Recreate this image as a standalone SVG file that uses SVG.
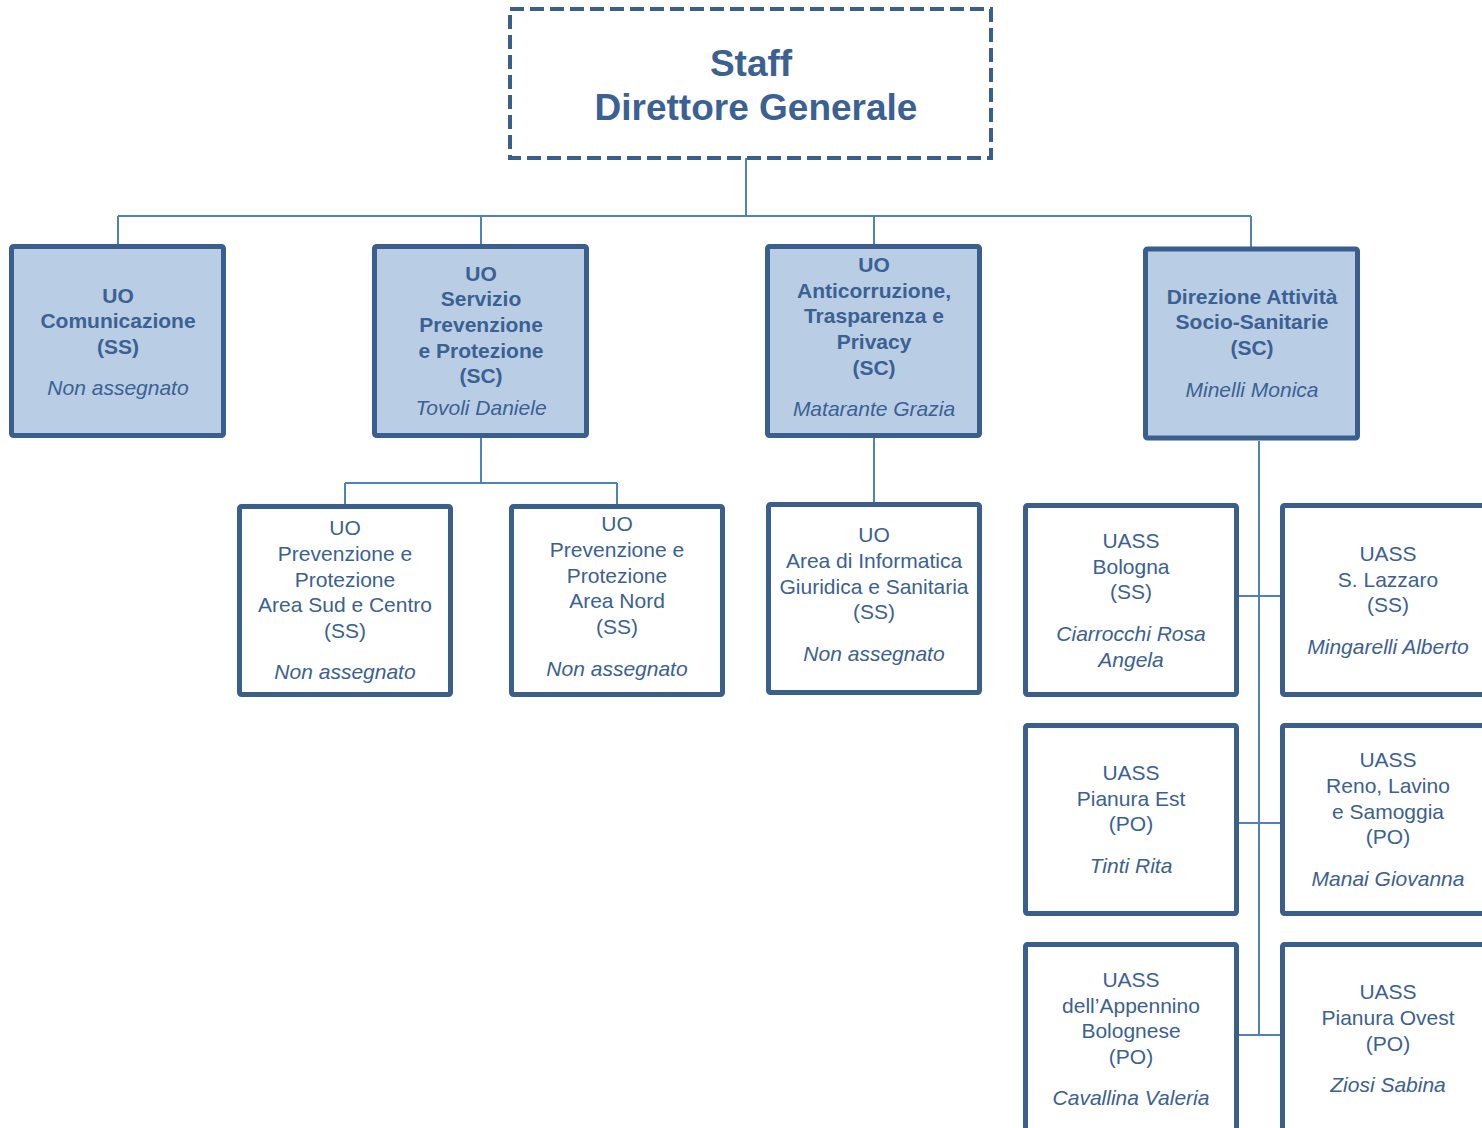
<svg xmlns="http://www.w3.org/2000/svg" width="1482" height="1128" viewBox="0 0 1482 1128">
<style>
.box{stroke:#3a5f8c;stroke-width:5;rx:2;}
.top{fill:#b9cde5;}
.low{fill:#ffffff;}
.conn{stroke:#4f81bd;stroke-width:2;fill:none;}
text{font-family:"Liberation Sans",Arial,sans-serif;font-size:21px;fill:#3b6193;text-anchor:middle;}
.b{font-weight:bold;}
.i{font-style:italic;}
.big{font-size:37px;font-weight:bold;}
</style>
<rect width="1482" height="1128" fill="#ffffff"/>
<g id="connectors">
<path class="conn" d="M746 158V216M118 216H1251M118 216V244M481 216V244M874 216V244M1251 216V247"/>
<path class="conn" d="M481 438V483M345 483H617M345 483V504M617 483V506M874 438V502"/>
<path class="conn" d="M1259 441V1035M1239 596H1280M1239 823H1280M1239 1035H1280"/>
</g>
<g id="staff">
<rect x="510" y="9" width="481" height="149" fill="#ffffff" stroke="#3a5f8c" stroke-width="4" stroke-dasharray="14 6"/>
<text class="big" x="751" y="76">Staff</text>
<text class="big" x="756" y="120">Direttore Generale</text>
</g>
<g id="comunicazione">
<rect class="box top" x="11.5" y="246.5" width="212" height="189"/>
<text class="b" x="118" y="303">UO</text>
<text class="b" x="118" y="328">Comunicazione</text>
<text class="b" x="118" y="354">(SS)</text>
<text class="i" x="118" y="395">Non assegnato</text>
</g>
<g id="spp">
<rect class="box top" x="374.5" y="246.5" width="212" height="189"/>
<text class="b" x="481" y="281">UO</text>
<text class="b" x="481" y="306">Servizio</text>
<text class="b" x="481" y="332">Prevenzione</text>
<text class="b" x="481" y="358">e Protezione</text>
<text class="b" x="481" y="383">(SC)</text>
<text class="i" x="481" y="415">Tovoli Daniele</text>
</g>
<g id="anticorruzione">
<rect class="box top" x="767.5" y="246.5" width="212" height="189"/>
<text class="b" x="874" y="272">UO</text>
<text class="b" x="874" y="298">Anticorruzione,</text>
<text class="b" x="874" y="323">Trasparenza e</text>
<text class="b" x="874" y="349">Privacy</text>
<text class="b" x="874" y="375">(SC)</text>
<text class="i" x="874" y="416">Matarante Grazia</text>
</g>
<g id="dass">
<rect class="box top" x="1145.5" y="249" width="212" height="189"/>
<text class="b" x="1252" y="304">Direzione Attività</text>
<text class="b" x="1252" y="329">Socio-Sanitarie</text>
<text class="b" x="1252" y="355">(SC)</text>
<text class="i" x="1252" y="397">Minelli Monica</text>
</g>
<g id="pp-sud">
<rect class="box low" x="239.5" y="506.5" width="211" height="188"/>
<text x="345" y="535">UO</text>
<text x="345" y="561">Prevenzione e</text>
<text x="345" y="587">Protezione</text>
<text x="345" y="612">Area Sud e Centro</text>
<text x="345" y="638">(SS)</text>
<text class="i" x="345" y="679">Non assegnato</text>
</g>
<g id="pp-nord">
<rect class="box low" x="511.5" y="506.5" width="211" height="188"/>
<text x="617" y="531">UO</text>
<text x="617" y="557">Prevenzione e</text>
<text x="617" y="583">Protezione</text>
<text x="617" y="608">Area Nord</text>
<text x="617" y="634">(SS)</text>
<text class="i" x="617" y="676">Non assegnato</text>
</g>
<g id="informatica">
<rect class="box low" x="768.5" y="504.5" width="211" height="188"/>
<text x="874" y="542">UO</text>
<text x="874" y="568">Area di Informatica</text>
<text x="874" y="594">Giuridica e Sanitaria</text>
<text x="874" y="619">(SS)</text>
<text class="i" x="874" y="661">Non assegnato</text>
</g>
<g id="uass-bologna">
<rect class="box low" x="1025.5" y="505.5" width="211" height="189"/>
<text x="1131" y="548">UASS</text>
<text x="1131" y="574">Bologna</text>
<text x="1131" y="599">(SS)</text>
<text class="i" x="1131" y="641">Ciarrocchi Rosa</text>
<text class="i" x="1131" y="667">Angela</text>
</g>
<g id="uass-lazzaro">
<rect class="box low" x="1282.5" y="505.5" width="211" height="189"/>
<text x="1388" y="561">UASS</text>
<text x="1388" y="587">S. Lazzaro</text>
<text x="1388" y="612">(SS)</text>
<text class="i" x="1388" y="654">Mingarelli Alberto</text>
</g>
<g id="uass-pianura-est">
<rect class="box low" x="1025.5" y="725.5" width="211" height="188"/>
<text x="1131" y="780">UASS</text>
<text x="1131" y="806">Pianura Est</text>
<text x="1131" y="831">(PO)</text>
<text class="i" x="1131" y="873">Tinti Rita</text>
</g>
<g id="uass-reno">
<rect class="box low" x="1282.5" y="725.5" width="211" height="188"/>
<text x="1388" y="767">UASS</text>
<text x="1388" y="793">Reno, Lavino</text>
<text x="1388" y="819">e Samoggia</text>
<text x="1388" y="844">(PO)</text>
<text class="i" x="1388" y="886">Manai Giovanna</text>
</g>
<g id="uass-appennino">
<rect class="box low" x="1025.5" y="944.5" width="211" height="188"/>
<text x="1131" y="987">UASS</text>
<text x="1131" y="1013">dell’Appennino</text>
<text x="1131" y="1038">Bolognese</text>
<text x="1131" y="1064">(PO)</text>
<text class="i" x="1131" y="1105">Cavallina Valeria</text>
</g>
<g id="uass-pianura-ovest">
<rect class="box low" x="1282.5" y="944.5" width="211" height="188"/>
<text x="1388" y="999">UASS</text>
<text x="1388" y="1025">Pianura Ovest</text>
<text x="1388" y="1051">(PO)</text>
<text class="i" x="1388" y="1092">Ziosi Sabina</text>
</g>
</svg>
